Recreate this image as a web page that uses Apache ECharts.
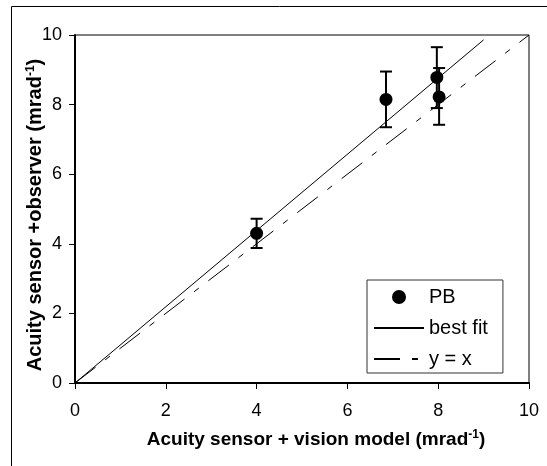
<!DOCTYPE html>
<html>
<head>
<meta charset="utf-8">
<script src="https://cdn.jsdelivr.net/npm/echarts@6/dist/echarts.min.js"></script>
<style>
  html, body { margin: 0; padding: 0; background: #fff; }
  #chart { width: 547px; height: 466px; }
</style>
</head>
<body>
<div id="chart"></div>
<script>
  // PB data: x = sensor + vision model, y = sensor + observer
  const pbX = [4.0, 6.85, 7.97, 8.02];
  const pbY = [4.3, 8.15, 8.78, 8.22];
  const errLow = [3.88, 7.35, 7.9, 7.42];
  const errHigh = [4.72, 8.95, 9.65, 9.05];
  const fitLine = [[0, 0], [9.0, 9.86]];
  const identityLine = [[0, 0], [10, 10]];

  const font = 'Liberation Sans, Arial, sans-serif';
  const chart = echarts.init(document.getElementById('chart'));

  const pbData = pbX.map((x, i) => [x, pbY[i]]);
  const errData = pbX.map((x, i) => [x, errLow[i], errHigh[i]]);

  const titleRich = (size) => ({
    b: { fontSize: size, fontWeight: 'bold', color: '#000', fontFamily: font },
    s: { fontSize: 12, fontWeight: 'bold', color: '#000', fontFamily: font, verticalAlign: 'top', padding: [0, 0, 9, 0] }
  });

  const option = {
    animation: false,
    backgroundColor: '#fff',
    textStyle: { fontFamily: font },
    graphic: [{
      type: 'rect',
      shape: { x: 11.5, y: 6.5, width: 600, height: 600 },
      style: { fill: 'none', stroke: '#000', lineWidth: 1 },
      silent: true
    }],
    grid: {
      left: 75, right: 18, top: 35, bottom: 83,
      show: true, borderColor: '#000', borderWidth: 1
    },
    legend: {
      orient: 'vertical',
      left: 367, top: 280,
      padding: [6, 15, 3, 6],
      itemGap: 9,
      itemWidth: 50,
      itemHeight: 14,
      borderColor: '#333',
      borderWidth: 1,
      textStyle: { fontFamily: font, fontSize: 20, lineHeight: 22, color: '#000' },
      data: [
        { name: 'PB' },
        { name: 'best fit', itemStyle: { opacity: 0 } },
        { name: 'y = x', itemStyle: { opacity: 0 } }
      ]
    },
    xAxis: {
      type: 'value', min: 0, max: 10, interval: 2,
      axisLine: { lineStyle: { color: '#000', width: 2 } },
      axisTick: { show: true, length: 6, lineStyle: { color: '#000', width: 1 } },
      splitLine: { show: false },
      axisLabel: { color: '#000', fontSize: 18, margin: 19, fontFamily: font },
      name: '{b|Acuity sensor + vision model (mrad}{s|-1}{b|)}',
      nameLocation: 'middle',
      nameGap: 46,
      nameMoveOverlap: false,
      nameTextStyle: { padding: [0, 0, 0, 28], rich: titleRich(19) }
    },
    yAxis: {
      type: 'value', min: 0, max: 10, interval: 2,
      axisLine: { lineStyle: { color: '#000', width: 2 } },
      axisTick: { show: true, length: 6, lineStyle: { color: '#000', width: 1 } },
      splitLine: { show: false },
      axisLabel: { color: '#000', fontSize: 18, margin: 13, fontFamily: font },
      name: '{b|Acuity sensor +observer (mrad}{s|-1}{b|)}',
      nameLocation: 'middle',
      nameGap: 29,
      nameMoveOverlap: false,
      nameTextStyle: { padding: [0, 12, 0, 0], rich: titleRich(20) }
    },
    series: [
      {
        name: 'best fit',
        type: 'line',
        data: fitLine,
        symbol: 'none',
        itemStyle: { color: '#000' },
        lineStyle: { color: '#000', width: 1 },
        z: 2
      },
      {
        name: 'y = x',
        type: 'line',
        data: identityLine,
        symbol: 'none',
        itemStyle: { color: '#000' },
        lineStyle: { color: '#000', width: 1, type: [26, 12, 6, 12] },
        z: 2
      },
      {
        name: 'errors',
        type: 'custom',
        data: errData,
        z: 3,
        renderItem: function (params, api) {
          const lo = api.coord([api.value(0), api.value(1)]);
          const hi = api.coord([api.value(0), api.value(2)]);
          const w = 6;
          const style = { stroke: '#000', lineWidth: 2 };
          return {
            type: 'group',
            children: [
              { type: 'line', shape: { x1: lo[0], y1: lo[1], x2: hi[0], y2: hi[1] }, style: style },
              { type: 'line', shape: { x1: lo[0] - w, y1: lo[1], x2: lo[0] + w, y2: lo[1] }, style: style },
              { type: 'line', shape: { x1: hi[0] - w, y1: hi[1], x2: hi[0] + w, y2: hi[1] }, style: style }
            ]
          };
        }
      },
      {
        name: 'PB',
        type: 'scatter',
        data: pbData,
        symbol: 'circle',
        symbolSize: 13,
        itemStyle: { color: '#000', opacity: 1 },
        z: 4
      }
    ]
  };

  chart.setOption(option);
</script>
</body>
</html>
